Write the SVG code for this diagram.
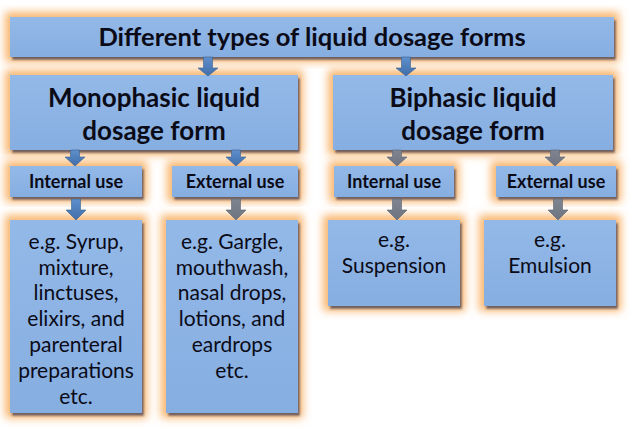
<svg xmlns="http://www.w3.org/2000/svg" width="630" height="432" viewBox="0 0 630 432">
<defs>
<filter id="glow" x="-30%" y="-30%" width="160%" height="160%">
<feMorphology in="SourceAlpha" operator="dilate" radius="5" result="d"/>
<feGaussianBlur in="d" stdDeviation="4.5" result="b"/>
<feFlood flood-color="#f9b66f" flood-opacity="1"/>
<feComposite in2="b" operator="in" result="g"/>
<feOffset in="SourceAlpha" dx="2" dy="2.5" result="so"/>
<feGaussianBlur in="so" stdDeviation="1.2" result="sb"/>
<feFlood flood-color="#34435a" flood-opacity="0.85"/>
<feComposite in2="sb" operator="in" result="s"/>
<feMerge><feMergeNode in="g"/><feMergeNode in="s"/><feMergeNode in="SourceGraphic"/></feMerge>
</filter>
<linearGradient id="boxg" x1="0" y1="0" x2="0" y2="1">
<stop offset="0" stop-color="#93b9e8"/>
<stop offset="1" stop-color="#86aee0"/>
</linearGradient>
<linearGradient id="arrb" x1="0" y1="0" x2="0" y2="1">
<stop offset="0" stop-color="#5f8fcc"/>
<stop offset="1" stop-color="#3f6ea9"/>
</linearGradient>
<linearGradient id="arrg" x1="0" y1="0" x2="0" y2="1">
<stop offset="0" stop-color="#7f8590"/>
<stop offset="1" stop-color="#6d7380"/>
</linearGradient>
</defs>
<style>
.box{fill:url(#boxg);filter:url(#glow);}
.t{font-family:Lato,"Open Sans",sans-serif;fill:#0b0b18;text-anchor:middle;}
.h1{font-size:25.5px;font-weight:bold;}
.h2{font-size:26px;font-weight:bold;}
.h3{font-size:18px;font-weight:bold;}
.b{font-size:21px;}
.ab{fill:url(#arrb);stroke:#3a5f8f;stroke-width:0.6;}
.ag{fill:url(#arrg);stroke:#5a6475;stroke-width:0.6;}
</style>
<rect width="630" height="432" fill="#ffffff"/>

<g id="root">
<rect class="box" x="10" y="17" width="604" height="40"/>
<text class="t h1" x="312" y="46">Different types of liquid dosage forms</text>
</g>

<g id="mono">
<rect class="box" x="10" y="75" width="288" height="75"/>
<text class="t h2" x="154" y="107">Monophasic liquid</text>
<text class="t h2" x="154" y="140">dosage form</text>
</g>

<g id="bi">
<rect class="box" x="333" y="75" width="280" height="75"/>
<text class="t h2" x="473" y="107">Biphasic liquid</text>
<text class="t h2" x="473" y="140">dosage form</text>
</g>

<g id="mono-internal">
<rect class="box" x="10" y="166" width="132" height="31"/>
<text class="t h3" x="76" y="188">Internal use</text>
</g>

<g id="mono-external">
<rect class="box" x="172" y="166" width="126" height="31"/>
<text class="t h3" x="235" y="188">External use</text>
</g>

<g id="bi-internal">
<rect class="box" x="334" y="166" width="120" height="31"/>
<text class="t h3" x="394" y="188">Internal use</text>
</g>

<g id="bi-external">
<rect class="box" x="496" y="166" width="120" height="31"/>
<text class="t h3" x="556" y="188">External use</text>
</g>

<g id="mono-internal-eg">
<rect class="box" x="10" y="220" width="132" height="193"/>
<text class="t b" x="76" y="249">e.g. Syrup,</text>
<text class="t b" x="76" y="275">mixture,</text>
<text class="t b" x="76" y="300">linctuses,</text>
<text class="t b" x="76" y="326">elixirs, and</text>
<text class="t b" x="76" y="352">parenteral</text>
<text class="t b" x="76" y="378">preparations</text>
<text class="t b" x="76" y="404">etc.</text>
</g>

<g id="mono-external-eg">
<rect class="box" x="166" y="220" width="132" height="193"/>
<text class="t b" x="232" y="249">e.g. Gargle,</text>
<text class="t b" x="232" y="275">mouthwash,</text>
<text class="t b" x="232" y="300">nasal drops,</text>
<text class="t b" x="232" y="326">lotions, and</text>
<text class="t b" x="232" y="352">eardrops</text>
<text class="t b" x="232" y="378">etc.</text>
</g>

<g id="bi-internal-eg">
<rect class="box" x="328" y="220" width="132" height="86"/>
<text class="t b" x="394" y="247">e.g.</text>
<text class="t b" x="394" y="273">Suspension</text>
</g>

<g id="bi-external-eg">
<rect class="box" x="484" y="220" width="132" height="86"/>
<text class="t b" x="550" y="247">e.g.</text>
<text class="t b" x="550" y="273">Emulsion</text>
</g>

<g id="connectors">
<path class="ab" d="M203.5,57 h9 v11 h5.5 l-10,8 l-10,-8 h5.5 z"/>
<path class="ab" d="M401.5,57 h9 v11 h5.5 l-10,8 l-10,-8 h5.5 z"/>
<path class="ab" d="M70.5,150 h9 v7 h5.5 l-10,9 l-10,-9 h5.5 z"/>
<path class="ab" d="M231.5,150 h9 v7 h5.5 l-10,9 l-10,-9 h5.5 z"/>
<path class="ag" d="M392.5,150 h9 v7 h5.5 l-10,9 l-10,-9 h5.5 z"/>
<path class="ag" d="M550.5,150 h9 v7 h5.5 l-10,9 l-10,-9 h5.5 z"/>
<path class="ab" d="M71.5,199 h9 v11 h5.5 l-10,10 l-10,-10 h5.5 z"/>
<path class="ag" d="M231.5,199 h9 v11 h5.5 l-10,10 l-10,-10 h5.5 z"/>
<path class="ag" d="M392.5,199 h9 v11 h5.5 l-10,10 l-10,-10 h5.5 z"/>
<path class="ag" d="M553.5,199 h9 v11 h5.5 l-10,10 l-10,-10 h5.5 z"/>
</g>
</svg>
